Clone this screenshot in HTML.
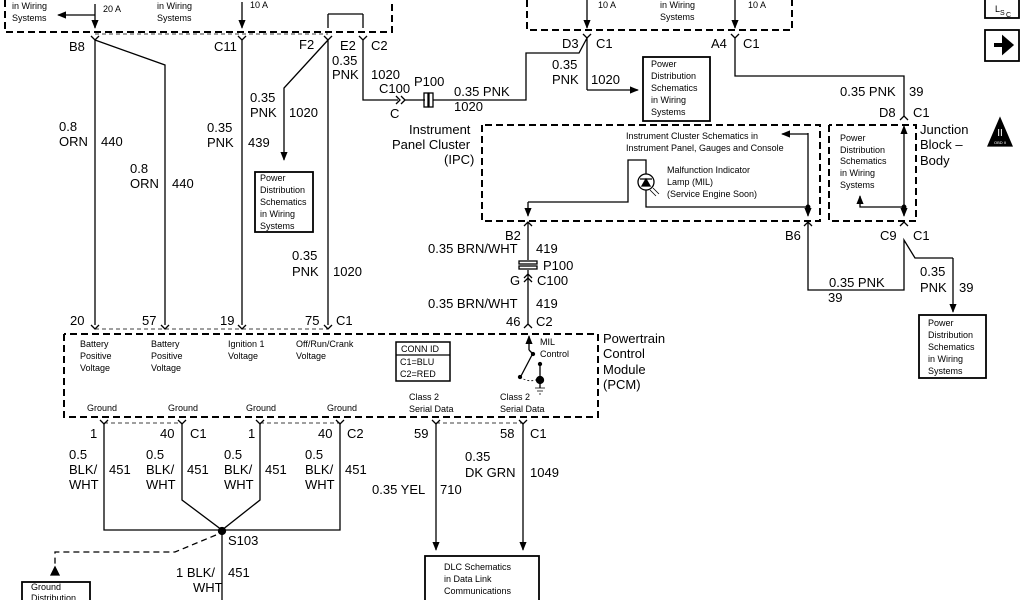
<!DOCTYPE html>
<html><head><meta charset="utf-8"><style>
html,body{margin:0;padding:0;background:#fff;}
svg{display:block;}
text{font-family:"Liberation Sans",Arial,sans-serif;fill:#000;}
.w{font-size:13px;}
.s{font-size:9px;}
</style></head><body>
<svg width="1024" height="600" viewBox="0 0 1024 600" xmlns="http://www.w3.org/2000/svg">
<defs>
<marker id="a" viewBox="0 0 10 10" refX="9" refY="5" markerWidth="7" markerHeight="7" orient="auto"><path d="M0,1 L10,5 L0,9 z" fill="#000"/></marker>
</defs>
<g stroke="#000" fill="none" stroke-width="1.3">
<path d="M5,0 V32 H392 V0" stroke-dasharray="7,4" stroke-width="2"/>
<path d="M527,0 V30 H792 V0" stroke-dasharray="7,4" stroke-width="2"/>
<path d="M95,34 H328" stroke-dasharray="4,3" stroke-width="0.8"/>
<path d="M95,4 V28" marker-end="url(#a)"/><path d="M95,15 H58" marker-end="url(#a)"/>
<path d="M242,2 V28" marker-end="url(#a)"/>
<path d="M328,14 H363 M328,14 V28 M363,14 V28"/>
<path d="M587,0 V28" marker-end="url(#a)"/><path d="M735,0 V28" marker-end="url(#a)"/>
<path d="M91,36 L95,40 L99,36 M238,36 L242,40 L246,36 M324,36 L328,40 L332,36 M359,36 L363,40 L367,36 M583,34 L587,38 L591,34 M731,34 L735,38 L739,34"/>
<path d="M95,40 V325 M95,40 L165,65 V325"/>
<path d="M242,40 V325"/>
<path d="M328,40 V325"/>
<path d="M328,40 L284,88 V160" marker-end="url(#a)"/>
<path d="M363,40 V100 H398"/>
<path d="M396,96 L400,100 L396,104 M401,96 L405,100 L401,104"/>
<path d="M405,100 H425 M433,100 H526 V53 H579 L587,38 V90"/>
<path d="M587,90 H638" marker-end="url(#a)"/>
<rect x="424" y="93" width="4" height="14"/><rect x="429" y="93" width="4" height="14"/>
<path d="M735,38 V76 H904 V116"/>
<path d="M900,120 L904,116 L908,120"/>
<path d="M482,125 V221 H820 V125 H482" stroke-dasharray="7,4" stroke-width="2"/>
<path d="M829,125 V221 H916 V125 H829" stroke-dasharray="7,4" stroke-width="2"/>
<path d="M528,202 H628 V160 H646 V174 M646,190 V207 H808"/>
<path d="M528,202 V216" marker-end="url(#a)"/>
<path d="M808,133 V216" marker-end="url(#a)"/>
<path d="M808,134 H782" marker-end="url(#a)"/>
<circle cx="646" cy="182" r="8"/>
<path d="M640,179 H652 M646,179 L642,186 H650 Z" fill="#000"/>
<path d="M650,190 L656,196 M653,188 L659,194" stroke-width="0.8"/>
<path d="M904,207 V126" marker-end="url(#a)"/><path d="M904,207 V216" marker-end="url(#a)"/>
<path d="M904,207 H860 V196" marker-end="url(#a)"/>
<circle cx="904" cy="207" r="1.8" fill="#000"/><circle cx="808" cy="207" r="1.8" fill="#000"/>
<path d="M524,226 L528,222 L532,226 M804,226 L808,222 L812,226 M900,226 L904,222 L908,226"/>
<path d="M528,222 V260 M528,270 V324"/>
<rect x="519" y="261" width="18" height="3"/><rect x="519" y="266" width="18" height="3"/>
<path d="M524,278 L528,274 L532,278 M524,282 L528,278 L532,282"/>
<path d="M524,328 L528,324 L532,328"/>
<path d="M808,222 V290 H904 V240 L915,258 H953"/>
<path d="M953,258 V312" marker-end="url(#a)"/>
<path d="M64,334 V417 H598 V334 H64" stroke-dasharray="7,4" stroke-width="2"/>
<path d="M95,329 H328 M104,423 H182 M260,423 H340 M436,423 H523" stroke-dasharray="4,3" stroke-width="0.8"/>
<path d="M91,325 L95,329 L99,325 M161,325 L165,329 L169,325 M238,325 L242,329 L246,325 M324,325 L328,329 L332,325"/>
<path d="M100,420 L104,424 L108,420 M178,420 L182,424 L186,420 M256,420 L260,424 L264,420 M336,420 L340,424 L344,420 M432,420 L436,424 L440,420 M519,420 L523,424 L527,420"/>
<path d="M529,350 V336" marker-end="url(#a)"/>
<path d="M529,350 L533,354"/>
<path d="M532,355 L521,376"/><circle cx="533" cy="354" r="1.5" fill="#000"/><circle cx="520" cy="377" r="1.5" fill="#000"/>
<path d="M520,377 Q530,384 540,378" stroke-dasharray="2,2" stroke-width="0.8"/>
<path d="M540,364 V388"/><circle cx="540" cy="364" r="1.5" fill="#000"/><circle cx="540" cy="380" r="3.5" fill="#000"/>
<path d="M535,388 H545 M537,391 H543 M539,394 H541" stroke-width="0.8"/>
<rect x="396" y="342" width="54" height="39" stroke-width="1.5"/><path d="M396,355 H450"/>
<path d="M104,424 V530 H340 V424 M182,424 V500 L222,530 L260,500 V424 M222,530 V600"/>
<circle cx="222" cy="531" r="3.5" fill="#000"/>
<path d="M216,535 L175,552 H55 V570" stroke-dasharray="6,4"/>
<path d="M51,575 L55,567 L59,575 z" fill="#000"/>
<rect x="22" y="582" width="68" height="30" stroke-width="1.8"/>
<path d="M436,424 V550" marker-end="url(#a)"/><path d="M523,424 V550" marker-end="url(#a)"/>
<rect x="425" y="556" width="114" height="50" stroke-width="1.8"/>
<rect x="255" y="172" width="58" height="60" stroke-width="1.8"/>
<rect x="643" y="57" width="67" height="64" stroke-width="1.8"/>
<rect x="919" y="315" width="67" height="63" stroke-width="1.8"/>
<rect x="985" y="-4" width="34" height="22" stroke-width="1.8"/>
<rect x="985" y="30" width="34" height="31" stroke-width="1.8"/>
<path d="M994,45 H1004 V39 L1011,45 L1004,51 V45" stroke-width="4" fill="#000"/>
<path d="M1000,118 L988,146 H1012 Z" fill="#000"/>
</g>
<text x="1000" y="136" font-size="10" text-anchor="middle" style="fill:#fff">II</text>
<text x="1000" y="144" font-size="4" text-anchor="middle" style="fill:#fff">OBD II</text>
<text x="995" y="12" font-size="9">L</text><text x="1000" y="15" font-size="7">S</text><text x="1006" y="17" font-size="7">C</text>
<g class="s">
<text x="12" y="9">in Wiring</text><text x="12" y="21">Systems</text>
<text x="103" y="12">20 A</text>
<text x="157" y="9">in Wiring</text><text x="157" y="21">Systems</text>
<text x="250" y="8">10 A</text>
<text x="598" y="8">10 A</text>
<text x="660" y="8">in Wiring</text><text x="660" y="20">Systems</text>
<text x="748" y="8">10 A</text>
<text x="260" y="181">Power</text><text x="260" y="193">Distribution</text><text x="260" y="205">Schematics</text><text x="260" y="217">in Wiring</text><text x="260" y="229">Systems</text>
<text x="651" y="67">Power</text><text x="651" y="79">Distribution</text><text x="651" y="91">Schematics</text><text x="651" y="103">in Wiring</text><text x="651" y="115">Systems</text>
<text x="840" y="141">Power</text><text x="840" y="153">Distribution</text><text x="840" y="164">Schematics</text><text x="840" y="176">in Wiring</text><text x="840" y="188">Systems</text>
<text x="626" y="139">Instrument Cluster Schematics in</text><text x="626" y="151">Instrument Panel, Gauges and Console</text>
<text x="667" y="173">Malfunction Indicator</text><text x="667" y="185">Lamp (MIL)</text><text x="667" y="197">(Service Engine Soon)</text>
<text x="928" y="326">Power</text><text x="928" y="338">Distribution</text><text x="928" y="350">Schematics</text><text x="928" y="362">in Wiring</text><text x="928" y="374">Systems</text>
<text x="80" y="347">Battery</text><text x="80" y="359">Positive</text><text x="80" y="371">Voltage</text>
<text x="151" y="347">Battery</text><text x="151" y="359">Positive</text><text x="151" y="371">Voltage</text>
<text x="228" y="347">Ignition 1</text><text x="228" y="359">Voltage</text>
<text x="296" y="347">Off/Run/Crank</text><text x="296" y="359">Voltage</text>
<text x="401" y="352">CONN ID</text><text x="400" y="365">C1=BLU</text><text x="400" y="377">C2=RED</text>
<text x="540" y="345">MIL</text><text x="540" y="357">Control</text>
<text x="87" y="411">Ground</text><text x="168" y="411">Ground</text><text x="246" y="411">Ground</text><text x="327" y="411">Ground</text>
<text x="409" y="400">Class 2</text><text x="409" y="412">Serial Data</text>
<text x="500" y="400">Class 2</text><text x="500" y="412">Serial Data</text>
<text x="444" y="570">DLC Schematics</text><text x="444" y="582">in Data Link</text><text x="444" y="594">Communications</text>
<text x="31" y="590">Ground</text><text x="31" y="601">Distribution</text>
</g>
<g class="w">
<text x="69" y="51">B8</text><text x="214" y="51">C11</text><text x="299" y="49">F2</text><text x="340" y="50">E2</text><text x="371" y="50">C2</text>
<text x="332" y="65">0.35</text><text x="332" y="79">PNK</text><text x="371" y="79">1020</text>
<text x="379" y="93">C100</text><text x="414" y="86">P100</text><text x="390" y="118">C</text>
<text x="454" y="96">0.35 PNK</text><text x="454" y="111">1020</text>
<text x="409" y="134">Instrument</text><text x="392" y="149">Panel Cluster</text><text x="444" y="164">(IPC)</text>
<text x="250" y="102">0.35</text><text x="250" y="117">PNK</text><text x="289" y="117">1020</text>
<text x="59" y="131">0.8</text><text x="59" y="146">ORN</text><text x="101" y="146">440</text>
<text x="130" y="173">0.8</text><text x="130" y="188">ORN</text><text x="172" y="188">440</text>
<text x="207" y="132">0.35</text><text x="207" y="147">PNK</text><text x="248" y="147">439</text>
<text x="292" y="260">0.35</text><text x="292" y="276">PNK</text><text x="333" y="276">1020</text>
<text x="562" y="48">D3</text><text x="596" y="48">C1</text>
<text x="552" y="69">0.35</text><text x="552" y="84">PNK</text><text x="591" y="84">1020</text>
<text x="711" y="48">A4</text><text x="743" y="48">C1</text>
<text x="840" y="96">0.35 PNK</text><text x="909" y="96">39</text>
<text x="879" y="117">D8</text><text x="913" y="117">C1</text>
<text x="920" y="134">Junction</text><text x="920" y="149">Block –</text><text x="920" y="165">Body</text>
<text x="505" y="240">B2</text><text x="428" y="253">0.35 BRN/WHT</text><text x="536" y="253">419</text>
<text x="543" y="270">P100</text><text x="510" y="285">G</text><text x="537" y="285">C100</text>
<text x="428" y="308">0.35 BRN/WHT</text><text x="536" y="308">419</text>
<text x="506" y="326">46</text><text x="536" y="326">C2</text>
<text x="785" y="240">B6</text><text x="880" y="240">C9</text><text x="913" y="240">C1</text>
<text x="829" y="287">0.35 PNK</text><text x="828" y="302">39</text>
<text x="920" y="276">0.35</text><text x="920" y="292">PNK</text><text x="959" y="292">39</text>
<text x="70" y="325">20</text><text x="142" y="325">57</text><text x="220" y="325">19</text><text x="305" y="325">75</text><text x="336" y="325">C1</text>
<text x="603" y="343">Powertrain</text><text x="603" y="358">Control</text><text x="603" y="374">Module</text><text x="603" y="389">(PCM)</text>
<text x="90" y="438">1</text><text x="160" y="438">40</text><text x="190" y="438">C1</text><text x="248" y="438">1</text><text x="318" y="438">40</text><text x="347" y="438">C2</text>
<text x="414" y="438">59</text><text x="500" y="438">58</text><text x="530" y="438">C1</text>
<text x="69" y="459">0.5</text><text x="69" y="474">BLK/</text><text x="69" y="489">WHT</text><text x="109" y="474">451</text>
<text x="146" y="459">0.5</text><text x="146" y="474">BLK/</text><text x="146" y="489">WHT</text><text x="187" y="474">451</text>
<text x="224" y="459">0.5</text><text x="224" y="474">BLK/</text><text x="224" y="489">WHT</text><text x="265" y="474">451</text>
<text x="305" y="459">0.5</text><text x="305" y="474">BLK/</text><text x="305" y="489">WHT</text><text x="345" y="474">451</text>
<text x="372" y="494">0.35 YEL</text><text x="440" y="494">710</text>
<text x="465" y="461">0.35</text><text x="465" y="477">DK GRN</text><text x="530" y="477">1049</text>
<text x="228" y="545">S103</text>
<text x="176" y="577">1 BLK/</text><text x="193" y="592">WHT</text><text x="228" y="577">451</text>
</g>
</svg>
</body></html>
